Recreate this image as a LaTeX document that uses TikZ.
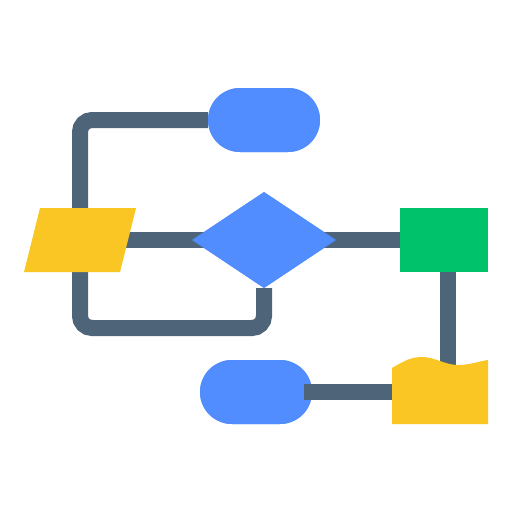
\documentclass[tikz,border=0pt]{standalone}
\usetikzlibrary{shapes.misc,shapes.geometric}
\definecolor{slate}{RGB}{78,100,120}
\definecolor{fblue}{RGB}{82,141,255}
\definecolor{fyellow}{RGB}{249,198,35}
\definecolor{fgreen}{RGB}{0,194,106}
\tikzset{
  conn/.style={draw=slate,line width=16pt,rounded corners=12pt},
  stadium/.style={rounded rectangle,fill=fblue,draw=none,inner sep=0pt,minimum width=112pt,minimum height=64pt},
  decide/.style={diamond,fill=fblue,draw=none,inner sep=0pt,minimum width=144pt,minimum height=96pt,aspect=1.5},
  procbox/.style={rectangle,fill=fgreen,draw=none,inner sep=0pt,minimum width=88pt,minimum height=64pt}
}
\begin{document}
\begin{tikzpicture}[x=1pt,y=-1pt]
\useasboundingbox (0,0) rectangle (512,512);
% named positions
\node[stadium] (top) at (264,120) {};
\node[decide] (dia) at (264,240) {};
\node[procbox] (proc) at (444,240) {};
\node[stadium] (bot) at (256,392) {};
\coordinate (para) at (80,240);
\coordinate (docw) at (392,392);
\coordinate (docn) at (448,370);
% connectors (behind)
\draw[conn] (top.west) -- (80,120) -- (80,328) -- (264,328) -- (dia.south);
\draw[conn] (para) -- (proc.west);
\draw[conn] (proc.south -| docn) -- (docn);
% shapes on top
\node[stadium] at (top) {};
\node[decide] at (dia) {};
\node[procbox] at (proc) {};
\node[stadium] at (bot) {};
\draw[conn] ([xshift=-8pt]bot.east) -- (docw);
\fill[fyellow] (40,208) -- (136,208) -- (120,272) -- (24,272) -- cycle;
\fill[fyellow] (392,424) -- (392,368)
  .. controls (404,361) and (411,357) .. (422,357)
  .. controls (435,357) and (445,365) .. (458,365)
  .. controls (470,365) and (480,361) .. (488,360)
  -- (488,424) -- cycle;
\end{tikzpicture}
\end{document}
